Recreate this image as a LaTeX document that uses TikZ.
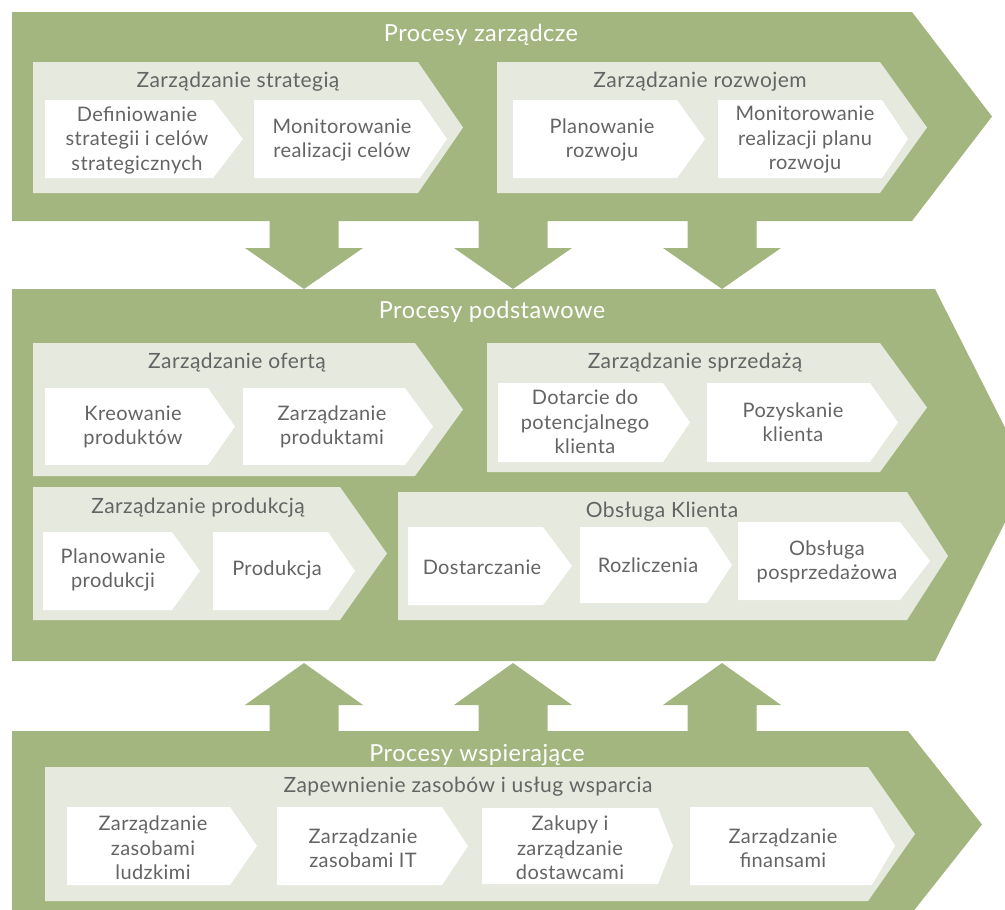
\documentclass[tikz,border=0pt]{standalone}
\usepackage{fontspec}
\setmainfont{Lato}[LetterSpace=2]
\definecolor{bandgreen}{HTML}{A4B67F}
\definecolor{palegreen}{HTML}{E6E9DE}
\definecolor{boxwhite}{HTML}{FFFFFF}
\definecolor{inktext}{HTML}{646464}

% chevron: #1 fill, #2 left, #3 top, #4 end of straight part, #5 bottom, #6 tip x
\newcommand\chevron[6]{%
  \fill[#1] (#2,#3) -- (#4,#3) -- (#6,{(#3+#5)/2}) -- (#4,#5) -- (#2,#5) -- cycle;}
% block arrow pointing down, centred on #1, from band edge #2 to tip #3
\newcommand\downblock[3]{%
  \fill[bandgreen] ({#1-34.5},{#2-8}) -- ({#1+34.5},{#2-8}) -- ({#1+34.5},248)
    -- ({#1+59},248) -- (#1,#3) -- ({#1-59},248) -- ({#1-34.5},248) -- cycle;}
% block arrow pointing up, centred on #1
\newcommand\upblock[1]{%
  \fill[bandgreen] ({#1-34.5},740) -- ({#1+34.5},740) -- ({#1+34.5},705)
    -- ({#1+59},705) -- (#1,663) -- ({#1-59},705) -- ({#1-34.5},705) -- cycle;}

\tikzset{
  boxtext/.style={font=\fontsize{20}{24.5}\selectfont, text=inktext, align=center, inner sep=0pt},
  subtitle/.style={font=\fontsize{21}{24}\selectfont, text=inktext, inner sep=0pt},
  bandtitle/.style={font=\fontsize{23.5}{26}\selectfont, text=white, inner sep=0pt}
}

\begin{document}
\begin{tikzpicture}[x=1pt,y=-1pt]
\useasboundingbox (0,0) rectangle (1005,910);
\clip (0,0) rectangle (1005,910);
\fill[white] (0,0) rectangle (1005,910);

% ---------- Procesy zarządcze ----------
\chevron{bandgreen}{12}{12}{912}{221}{992}
\downblock{304}{221}{289}
\downblock{513}{221}{289}
\downblock{722}{221}{289}
\node[bandtitle] (tz) at (481,35) {Procesy zarządcze};

\chevron{palegreen}{33}{62}{418}{193}{463}
\node[subtitle] (zs) at (238,82) {Zarządzanie strategią};
\chevron{boxwhite}{45}{100}{213}{178}{243}
\node[boxtext] (zs1) at (137,140) {Definiowanie\\strategii i celów\\strategicznych};
\chevron{boxwhite}{254}{100}{420}{178}{447}
\node[boxtext] (zs2) at (342,140) {Monitorowanie\\realizacji celów};

\chevron{palegreen}{497}{62}{880}{193}{927}
\node[subtitle] (zr) at (700,82) {Zarządzanie rozwojem};
\chevron{boxwhite}{513}{100}{677}{178}{705}
\node[boxtext] (zr1) at (602,140) {Planowanie\\rozwoju};
\chevron{boxwhite}{718}{100}{882}{178}{908}
\node[boxtext] (zr2) at (805,140) {Monitorowanie\\realizacji planu\\rozwoju};

% ---------- Procesy podstawowe ----------
\chevron{bandgreen}{12}{289}{935}{661}{1029}
\node[bandtitle] (tp) at (492,312) {Procesy podstawowe};

\chevron{palegreen}{33}{343}{415}{476}{463}
\node[subtitle] (zo) at (237,363) {Zarządzanie ofertą};
\chevron{boxwhite}{45}{388}{208}{465}{235}
\node[boxtext] (zo1) at (133,427) {Kreowanie\\produktów};
\chevron{boxwhite}{243}{388}{405}{465}{433}
\node[boxtext] (zo2) at (332,427) {Zarządzanie\\produktami};

\chevron{palegreen}{487}{343}{880}{472}{927}
\node[subtitle] (zsp) at (695,363) {Zarządzanie sprzedażą};
\chevron{boxwhite}{498}{383}{663}{462}{690}
\node[boxtext] (zsp1) at (585,422) {Dotarcie do\\potencjalnego\\klienta};
\chevron{boxwhite}{707}{383}{870}{462}{898}
\node[boxtext] (zsp2) at (793,422) {Pozyskanie\\klienta};

\chevron{palegreen}{33}{487}{340}{620}{387}
\node[subtitle] (zp) at (198,508) {Zarządzanie produkcją};
\chevron{boxwhite}{43}{532}{172}{610}{200}
\node[boxtext] (zp1) at (113,570) {Planowanie\\produkcji};
\chevron{boxwhite}{213}{532}{328}{610}{355}
\node[boxtext] (zp2) at (277,570) {Produkcja};

\chevron{palegreen}{398}{492}{907}{620}{948}
\node[subtitle] (ok) at (662,512) {Obsługa Klienta};
\chevron{boxwhite}{408}{527}{543}{605}{572}
\node[boxtext] (ok1) at (482,567) {Dostarczanie};
\chevron{boxwhite}{580}{527}{707}{603}{732}
\node[boxtext] (ok2) at (648,565) {Rozliczenia};
\chevron{boxwhite}{738}{522}{900}{600}{930}
\node[boxtext] (ok3) at (827,562) {Obsługa\\posprzedażowa};

% ---------- Procesy wspierające ----------
\upblock{304}
\upblock{513}
\upblock{722}
\chevron{bandgreen}{12}{731}{908}{918}{982}
\node[bandtitle] (tw) at (477,755) {Procesy wspierające};

\chevron{palegreen}{45}{767}{868}{901}{915}
\node[subtitle] (zz) at (468,787) {Zapewnienie zasobów i usług wsparcia};
\chevron{boxwhite}{67}{807}{230}{885}{257}
\node[boxtext] (zz1) at (153,848) {Zarządzanie\\zasobami\\ludzkimi};
\chevron{boxwhite}{277}{807}{442}{885}{468}
\node[boxtext] (zz2) at (363,848) {Zarządzanie\\zasobami IT};
\chevron{boxwhite}{482}{808}{658}{884}{673}
\node[boxtext] (zz3) at (570,848) {Zakupy i\\zarządzanie\\dostawcami};
\chevron{boxwhite}{690}{807}{872}{885}{895}
\node[boxtext] (zz4) at (783,848) {Zarządzanie\\finansami};
\end{tikzpicture}
\end{document}
